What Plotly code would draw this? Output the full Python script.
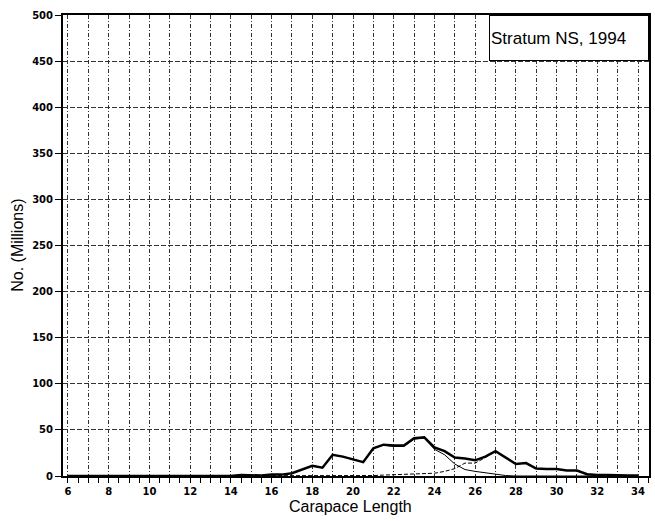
import plotly.graph_objects as go

# Carapace length classes (mm)
lengths = [6 + 0.5 * i for i in range(57)]  # 6.0 .. 34.0

# Total numbers (millions), thick solid line
total = [0, 0, 0, 0, 0, 0, 0, 0, 0, 0,      # 6-10.5
         0, 0, 0, 0, 0, 0, 0, 1, 0.5, 0.5,  # 11-15.5
         1.5, 1.5, 3, 7, 11, 9, 23, 21, 18, 15,  # 16-20.5
         30, 34, 33, 33, 41, 42, 31, 27, 20, 19,  # 21-25.5
         17, 21, 27, 20, 13, 14, 8, 7.5, 7.5, 6,  # 26-30.5
         6, 2, 1, 1, 0.5, 0.5, 0.5]               # 31-34

# Younger component, thin solid line
comp_a = [0, 0, 0, 0, 0, 0, 0, 0, 0, 0,
          0, 0, 0, 0, 0, 0, 0, 1, 0.5, 0.5,
          1.5, 1.5, 3, 7, 11, 9, 23, 21, 18, 15,
          30, 33.5, 32, 32, 40, 41, 29, 23, 13, 7,
          5, 3.5, 1.5, 0.5, 0, 0, 0, 0, 0, 0,
          0, 0, 0, 0, 0, 0, 0]

# Older component, dashed line
comp_b = [0, 0, 0, 0, 0, 0, 0, 0, 0, 0,
          0, 0, 0, 0, 0, 0, 0, 0, 0, 0,
          0, 0, 0, 0, 0, 0, 0, 0, 0, 0,
          0.5, 1, 1.5, 2, 2, 2.5, 3, 5, 8, 14,
          14, 20, 27, 20, 13, 14, 8, 7.5, 7.5, 6,
          6, 2, 1, 1, 0.5, 0.5, 0.5]

x_tick_vals = list(range(6, 35))
x_tick_text = [str(v) if v % 2 == 0 else "" for v in x_tick_vals]
y_tick_vals = list(range(0, 501, 50))

fig = go.Figure()
fig.add_trace(go.Scatter(x=lengths, y=comp_b, mode="lines",
                         line=dict(color="black", width=1, dash="4px,2px")))
fig.add_trace(go.Scatter(x=lengths, y=comp_a, mode="lines",
                         line=dict(color="black", width=1)))
fig.add_trace(go.Scatter(x=lengths, y=total, mode="lines",
                         line=dict(color="black", width=2.5)))

tick_font = dict(family="DejaVu Sans", size=10, color="black", weight="bold")

fig.update_layout(
    width=655, height=521,
    margin=dict(l=63, r=4, t=15, b=45),
    paper_bgcolor="white", plot_bgcolor="white",
    showlegend=False,
    xaxis=dict(
        range=[5.755, 34.54], tickmode="array", tickvals=x_tick_vals,
        ticktext=x_tick_text, ticks="outside", ticklen=5, tickwidth=1.2,
        tickcolor="black", tickfont=tick_font,
        showgrid=True, gridcolor="#333", gridwidth=1, griddash="4px,2px,1px,2px",
        showline=True, linecolor="black", linewidth=2, mirror=True,
        minor=dict(dtick=0.5, ticks="outside", ticklen=5, tickcolor="black",
                   showgrid=False),
        zeroline=False,
    ),
    yaxis=dict(
        range=[0, 500], tickmode="array", tickvals=y_tick_vals,
        ticks="outside", ticklen=6, tickwidth=1.2, tickcolor="black",
        tickfont=tick_font,
        showgrid=True, gridcolor="#333", gridwidth=1, griddash="5px,2px",
        showline=True, linecolor="black", linewidth=2, mirror=True,
        zeroline=False,
    ),
    annotations=[
        dict(text="Stratum NS, 1994", xref="paper", yref="paper",
             x=1, y=1, xanchor="right", yanchor="top", showarrow=False,
             font=dict(family="Liberation Sans", size=17, color="black"),
             bgcolor="white", bordercolor="black", borderwidth=1,
             width=156, height=42, align="left"),
        dict(text="No. (Millions)", xref="paper", yref="paper",
             x=-0.078, y=0.50, xanchor="center", yanchor="middle",
             textangle=-90, showarrow=False,
             font=dict(family="Liberation Sans", size=16, color="black")),
        dict(text="Carapace Length", xref="paper", yref="paper",
             x=0.491, y=-0.067, xanchor="center", yanchor="middle",
             showarrow=False,
             font=dict(family="Liberation Sans", size=16, color="black")),
    ],
)

fig.write_html("out.html")
